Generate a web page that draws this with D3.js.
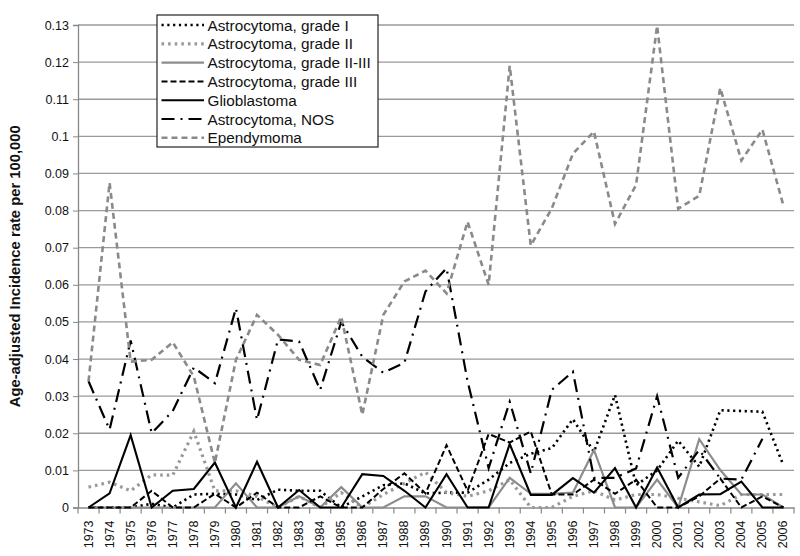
<!DOCTYPE html>
<html><head><meta charset="utf-8">
<script src="https://cdn.jsdelivr.net/npm/d3@7"></script>
<style>body{margin:0;background:#fff;}svg{display:block;font-family:"Liberation Sans",Arial,sans-serif;}</style>
</head><body>
<svg id="c" width="800" height="556"></svg>
<script>
const years = d3.range(1973, 2007).map(String);
const yTickValues = [0,0.01,0.02,0.03,0.04,0.05,0.06,0.07,0.08,0.09,0.1,0.11,0.12,0.13];
const yTickLabels = ["0","0.01","0.02","0.03","0.04","0.05","0.06","0.07","0.08","0.09","0.1","0.11","0.12","0.13"];
const seriesNames = ["Astrocytoma, grade I","Astrocytoma, grade II","Astrocytoma, grade II-III","Astrocytoma, grade III","Glioblastoma","Astrocytoma, NOS","Ependymoma"];

const gradeI = [0,0,0,0.001,0,0.0035,0.0037,0.0035,0.002,0.0048,
  0.0045,0.0045,0,0.003,0.006,0.0065,0.0038,0.004,0.004,0.0075,
  0.012,0.0145,0.016,0.0238,0.015,0.0303,0.006,0.010,0.018,0.011,
  0.0262,0.026,0.0258,0.0113];
const gradeII = [0.0055,0.0068,0.0045,0.0088,0.0087,0.0205,0.0045,0.0045,0.003,0,
  0.003,0,0.004,0,0.0035,0.0065,0.0095,0.004,0.003,0.0045,
  0.0075,0,0,0.003,0.0045,0.002,0.0035,0.0035,0.0025,0.0015,
  0.0005,0.0035,0.0035,0.0035];
const gradeIIIII = [0,0,0,0,0,0,0,0.0065,0,0,
  0.003,0,0.0055,0,0,0.003,0.003,0,0,0,
  0.008,0.0037,0.0037,0.004,0.0155,0,0,0.0075,0,0.0184,
  0.0101,0.0035,0.0035,0];
const gradeIII = [0,0,0,0.0045,0,0,0.0037,0,0.004,0,
  0,0.003,0,0,0.005,0.0092,0.0038,0.0168,0.0045,0.0198,
  0.0175,0.0205,0.0035,0.0035,0.0075,0.0037,0.0075,0,0,0.003,
  0.0078,0,0.003,0];
const glioblastoma = [0,0.0038,0.0195,0,0.0045,0.005,0.0121,0,0.0123,0,
  0.0047,0,0,0.009,0.0085,0.0045,0,0.009,0,0,
  0.0171,0.0034,0.0034,0.0079,0.004,0.0106,0,0.0108,0,0.0035,
  0.0036,0.007,0,0];
const nos = [0.034,0.021,0.045,0.020,0.026,0.0377,0.0335,0.0537,0.0236,0.0453,
  0.0447,0.0317,0.050,0.0406,0.0363,0.039,0.0582,0.0645,0.034,0.0106,
  0.0285,0.0092,0.0317,0.0366,0.008,0.008,0.0105,0.030,0.008,0.0155,
  0.0078,0.0075,0.0185,null];
const ependymoma = [0.034,0.0875,0.0393,0.0398,0.0445,0.0353,0.012,0.0398,0.0519,0.0465,
  0.0398,0.0384,0.0514,0.025,0.0519,0.0609,0.0638,0.0577,0.077,0.060,
  0.119,0.0706,0.0806,0.0953,0.1013,0.0764,0.0869,0.1298,0.0805,0.084,
  0.113,0.0935,0.1018,0.0813];

const seriesValues = [gradeI, gradeII, gradeIIIII, gradeIII, glioblastoma, nos, ependymoma];
const styles = [
  {color:"#000", width:2.6, dash:"2.2 3.6"},
  {color:"#999", width:3.2, dash:"2.6 4"},
  {color:"#8c8c8c", width:2.2, dash:null},
  {color:"#000", width:2, dash:"6 3"},
  {color:"#000", width:2.1, dash:null},
  {color:"#000", width:2.2, dash:"13 6 2 6"},
  {color:"#8a8a8a", width:2.6, dash:"6 4"}
];

const svg = d3.select("#c");
const pLeft = 78, pRight = 794, pTop = 25, pBottom = 507.5;
const x = d3.scaleBand().domain(years).range([pLeft, pRight]).padding(0);
const y = d3.scaleLinear().domain([0, 0.13]).range([pBottom, pTop]);
const cx = d => x(d) + x.bandwidth()/2;

// gridlines
svg.append("g").selectAll("line").data(yTickValues.slice(1)).join("line")
  .attr("x1", pLeft).attr("x2", pRight)
  .attr("y1", d => y(d)).attr("y2", d => y(d))
  .attr("stroke", "#9a9a9a").attr("stroke-width", 1.3);

// y axis
const yAxis = d3.axisLeft(y).tickValues(yTickValues)
  .tickFormat((d,i) => yTickLabels[i]).tickSize(5).tickPadding(4);
const gy = svg.append("g").attr("transform", `translate(${pLeft},0)`).call(yAxis);
gy.select(".domain").attr("stroke", "#888").attr("stroke-width", 1.3);
gy.selectAll(".tick line").attr("stroke", "#888");
gy.selectAll("text").attr("font-size", 12.5).attr("fill", "#111")
  .attr("font-family", "Liberation Sans, Arial, sans-serif");

// x axis
const xAxis = d3.axisBottom(x).tickSize(0).tickPadding(0);
const gx = svg.append("g").attr("transform", `translate(0,${pBottom})`).call(xAxis);
gx.select(".domain").attr("stroke", "#888").attr("stroke-width", 1.3);
gx.selectAll(".tick text")
  .attr("font-size", 12.5).attr("fill", "#111")
  .attr("font-family", "Liberation Sans, Arial, sans-serif")
  .attr("text-anchor", "end")
  .attr("dy", null)
  .attr("transform", "translate(4,13) rotate(-90)");
// boundary tick marks
svg.append("g").selectAll("line").data(years.concat(["end"])).join("line")
  .attr("x1", d => d === "end" ? pRight : x(d))
  .attr("x2", d => d === "end" ? pRight : x(d))
  .attr("y1", pBottom).attr("y2", pBottom + 6)
  .attr("stroke", "#888").attr("stroke-width", 1.2);

// y title
svg.append("text")
  .attr("transform", `translate(20,${(pTop+pBottom)/2}) rotate(-90)`)
  .attr("text-anchor", "middle")
  .attr("font-size", 14.8).attr("font-weight", "bold").attr("fill", "#111")
  .text("Age-adjusted Incidence rate per 100,000");

// lines
const line = d3.line()
  .defined(d => d.v !== null)
  .x(d => cx(d.year)).y(d => y(d.v));
seriesValues.forEach((vals, i) => {
  const data = years.map((yr, j) => ({year: yr, v: vals[j]}));
  const s = styles[i];
  svg.append("path").datum(data)
    .attr("d", line)
    .attr("fill", "none")
    .attr("stroke", s.color)
    .attr("stroke-width", s.width)
    .attr("stroke-dasharray", s.dash)
    .attr("stroke-linejoin", "miter");
});

// legend
const lg = svg.append("g");
const lgX = 157, lgY = 15, lgW = 221, lgH = 132, rowH = 18.8;
lg.append("rect").attr("x", lgX).attr("y", lgY).attr("width", lgW).attr("height", lgH)
  .attr("fill", "#fff").attr("stroke", "#222").attr("stroke-width", 1.2);
seriesNames.forEach((name, i) => {
  const yy = 25 + i*rowH;
  const s = styles[i];
  lg.append("line").attr("x1", 161.5).attr("x2", 204).attr("y1", yy).attr("y2", yy)
    .attr("stroke", s.color).attr("stroke-width", s.width)
    .attr("stroke-dasharray", s.dash);
  lg.append("text").attr("x", 207.5).attr("y", yy).attr("dy", "0.36em")
    .attr("font-size", 15.3).attr("fill", "#111").text(name);
});
</script>
</body></html>
